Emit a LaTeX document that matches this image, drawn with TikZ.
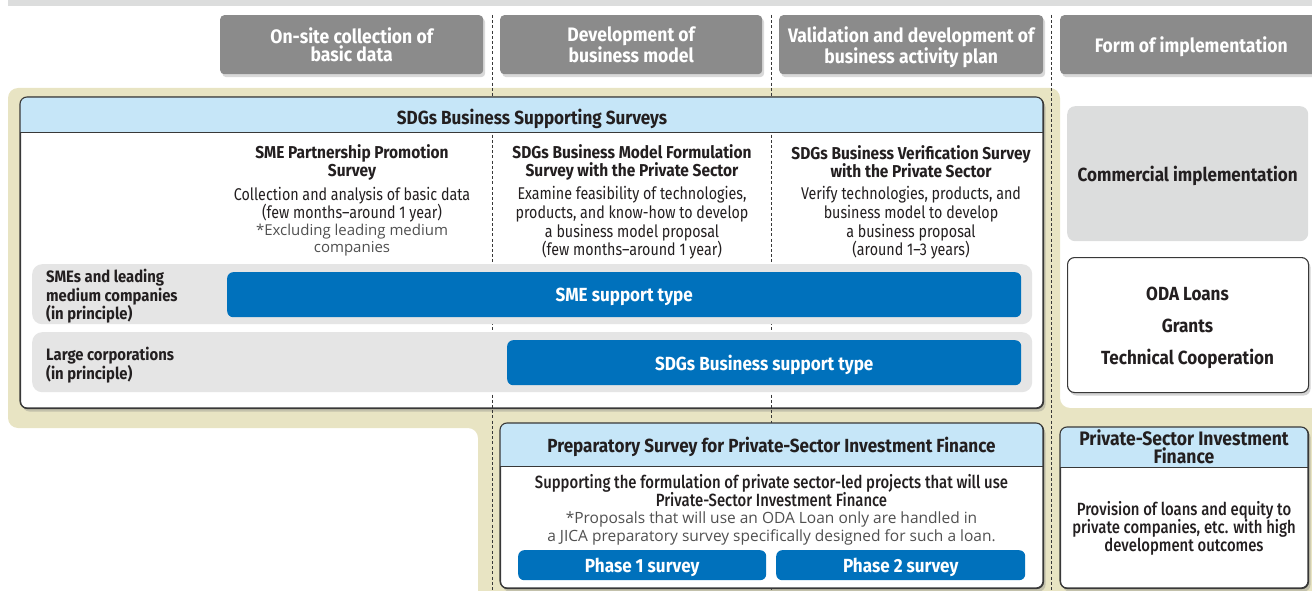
\documentclass[tikz,border=0pt]{standalone}
\usepackage{fontspec}
\setmainfont[FakeStretch=0.84]{Fira Sans}
\newfontfamily\heavyfont[FakeStretch=0.9]{Fira Sans}
\newfontfamily\medfont[FakeStretch=0.84]{Fira Sans Medium}
\newfontfamily\notefont{Open Sans}
\usetikzlibrary{shadows}

\definecolor{beige}{HTML}{E8E4C3}
\definecolor{bandgray}{HTML}{DCDDDD}
\definecolor{hdrgray}{HTML}{8B8B8B}
\definecolor{rowgray}{HTML}{E5E5E5}
\definecolor{skyband}{HTML}{C6E6F8}
\definecolor{bluebar}{HTML}{0071BC}
\definecolor{ink}{HTML}{231F20}
\definecolor{notegray}{HTML}{505050}
\definecolor{frame}{HTML}{383838}

\newcommand\hdrtext{\fontsize{19.5}{18.5}\selectfont\heavyfont\bfseries}
\newcommand\headtext{\fontsize{17.2}{18}\selectfont\heavyfont\bfseries}
\newcommand\labeltext{\fontsize{16.5}{18.5}\selectfont\heavyfont\bfseries}
\newcommand\bodytext{\fontsize{17}{18.6}\selectfont}
\newcommand\mediumtext{\fontsize{17.7}{18}\selectfont\medfont}
\newcommand\smallnote{\fontsize{15}{16.5}\selectfont\notefont}
\newcommand\bigitem{\fontsize{19}{19.5}\selectfont\heavyfont\bfseries}

\tikzset{
  hdrbox/.style={fill=hdrgray, rounded corners=4pt, text=white, font=\hdrtext,
    align=center, minimum height=59pt, inner sep=0pt, anchor=north west, text depth=0pt,
    drop shadow={shadow xshift=2pt, shadow yshift=-3pt, opacity=0.3}},
  panel/.style={draw=frame, line width=1.1pt, fill=white, rounded corners=7pt,
    inner sep=0pt, anchor=north west,
    drop shadow={shadow xshift=2pt, shadow yshift=-3pt, opacity=0.35}},
  divider/.style={draw=frame, line width=0.8pt, dash pattern=on 3pt off 2.2pt},
  titletext/.style={text=ink, font=\bigitem, align=center, text depth=0pt},
  colhead/.style={text=ink, font=\headtext, align=center},
  coltext/.style={text=ink, font=\bodytext, align=center},
  notetext/.style={text=notegray, font=\smallnote, align=center},
  rowbox/.style={fill=rowgray, rounded corners=10pt, inner sep=0pt, anchor=north west, minimum width=1000pt, minimum height=60pt},
  rowlabel/.style={text=ink, font=\labeltext, align=left, anchor=west, inner sep=0pt},
  bar/.style={fill=bluebar, rounded corners=6pt, text=white, font=\bigitem,
    inner sep=0pt, anchor=north west, text depth=0pt},
  flatbox/.style={fill=bandgray, rounded corners=8pt, text=ink, font=\bigitem,
    inner sep=0pt, anchor=north west, align=center, text depth=0pt},
}

\begin{document}
\begin{tikzpicture}[x=1pt, y=-1pt]
\useasboundingbox (0,0) rectangle (1312,591);

% page band and beige ground
\fill[bandgray] (8,-6) rectangle (1330,6);
\fill[beige, rounded corners=10pt] (8,88) -- (1060,88) -- (1060,408) -- (1340,408)
  -- (1340,620) -- (478,620) -- (478,428) -- (8,428) -- cycle;

% stage headers
\node[hdrbox, minimum width=263pt] (h1) at (220,15) {On-site collection of\\basic data};
\node[hdrbox, minimum width=262pt] (h2) at (500,15) {Development of\\business model};
\node[hdrbox, minimum width=264pt] (h3) at (779,15) {Validation and development of\\business activity plan};
\node[hdrbox, minimum width=262pt] (h4) at (1060,15) {Form of implementation};

% SDGs Business Supporting Surveys panel
\node[panel, minimum width=1023pt, minimum height=311pt] (sdgs) at (20,97) {};

% stage dividers
\coordinate (d1a) at (492,15);  \coordinate (d1b) at (492,600);
\coordinate (d2a) at (771,15);  \coordinate (d2b) at (771,600);
\coordinate (d3a) at (1051,15); \coordinate (d3b) at (1051,600);
\draw[divider] (d1a) -- (d1b);
\draw[divider] (d2a) -- (d2b);
\draw[divider] (d3a) -- (d3b);

\begin{scope}
  \clip[rounded corners=7pt] (20,97) rectangle (1043,408);
  \fill[skyband] (20,97) rectangle (1043,132);
\end{scope}
\draw[frame, line width=0.9pt] (20,132) -- (1043,132);
\node[titletext] (sdgsT) at (532,117) {SDGs Business Supporting Surveys};

% survey columns
\node[colhead] (c1h) at (352,162) {SME Partnership Promotion\\Survey};
\node[coltext] (c1t) at (352,204.5) {Collection and analysis of basic data\\(few months–around 1 year)};
\node[notetext] (c1n) at (352,240) {*Excluding leading medium\\companies};

\node[colhead] (c2h) at (632,162) {SDGs Business Model Formulation\\Survey with the Private Sector};
\node[coltext] (c2t) at (632,223) {Examine feasibility of technologies,\\products, and know-how to develop\\a business model proposal\\(few months–around 1 year)};

\node[colhead] (c3h) at (911,162) {SDGs Business Verification Survey\\with the Private Sector};
\node[coltext] (c3t) at (911,223) {Verify technologies, products, and\\business model to develop\\a business proposal\\(around 1–3 years)};

% applicant rows
\node[rowbox] (row1) at (32,264) {};
\node[rowlabel] (row1l) at (46,296.5) {SMEs and leading\\medium companies\\(in principle)};
\node[bar, minimum width=794pt, minimum height=45pt] (bar1) at (227,272) {SME support type};

\node[rowbox] (row2) at (32,332) {};
\node[rowlabel] (row2l) at (46,365) {Large corporations\\(in principle)};
\node[bar, minimum width=514pt, minimum height=45pt] (bar2) at (507,340) {SDGs Business support type};

\draw[frame, line width=1.1pt, rounded corners=7pt] (20,97) rectangle (1043,408);

% forms of implementation
\node[flatbox, minimum width=241pt, minimum height=135pt] (comm) at (1067,106) {Commercial implementation};
\node[panel, minimum width=241pt, minimum height=135pt] (oda) at (1067,257) {};
\node[titletext] (odaT) at (1187.5,326) {ODA Loans\\[12.5pt]Grants\\[12.5pt]Technical Cooperation};

% Preparatory Survey panel
\node[panel, minimum width=543pt, minimum height=165pt] (prep) at (500,423) {};
\begin{scope}
  \clip[rounded corners=7pt] (500,423) rectangle (1043,588);
  \fill[skyband] (500,423) rectangle (1043,466);
\end{scope}
\draw[frame, line width=0.9pt] (500,466) -- (1043,466);
\draw[frame, line width=1.1pt, rounded corners=7pt] (500,423) rectangle (1043,588);
\node[titletext] (prepT) at (771.5,445) {Preparatory Survey for Private-Sector Investment Finance};
\node[coltext, font=\mediumtext] (prepC) at (771.5,490.5) {Supporting the formulation of private sector-led projects that will use\\Private-Sector Investment Finance};
\node[notetext, font=\fontsize{15.5}{18}\selectfont\notefont] (prepN) at (771.5,528) {*Proposals that will use an ODA Loan only are handled in\\a JICA preparatory survey specifically designed for such a loan.};
\node[bar, minimum width=248pt, minimum height=30pt] (ph1) at (518,550) {Phase 1 survey};
\node[bar, minimum width=249pt, minimum height=30pt] (ph2) at (776,550) {Phase 2 survey};

% Private-Sector Investment Finance panel
\node[panel, minimum width=248pt, minimum height=161pt] (psif) at (1060,427) {};
\begin{scope}
  \clip[rounded corners=7pt] (1060,427) rectangle (1308,588);
  \fill[skyband] (1060,427) rectangle (1308,467);
\end{scope}
\draw[frame, line width=0.9pt] (1060,467) -- (1308,467);
\draw[frame, line width=1.1pt, rounded corners=7pt] (1060,427) rectangle (1308,588);
\node[titletext, font=\fontsize{19.5}{18.5}\selectfont\heavyfont\bfseries] (psifT) at (1184,446.5) {Private-Sector Investment\\Finance};
\node[coltext, font=\mediumtext] (psifC) at (1184,528.5) {Provision of loans and equity to\\private companies, etc. with high\\development outcomes};

\end{tikzpicture}
\end{document}
